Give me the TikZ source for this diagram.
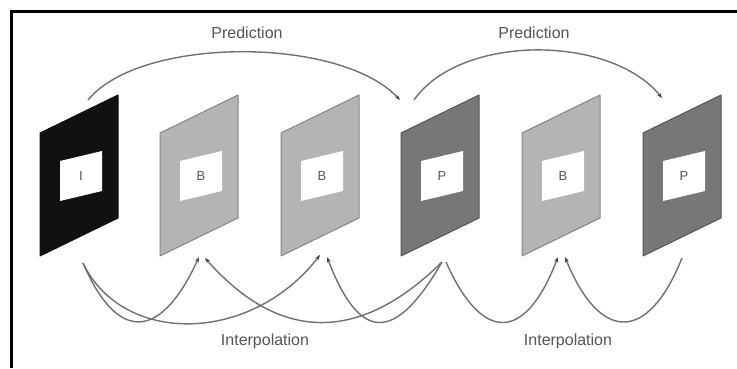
\documentclass[tikz,border=0pt]{standalone}
\usepackage{fontspec}
\setmainfont{Liberation Sans}
\usetikzlibrary{arrows.meta}
\definecolor{linegray}{HTML}{707070}
\definecolor{textgray}{HTML}{555555}
\definecolor{bfill}{HTML}{B4B4B4}
\definecolor{bedge}{HTML}{858585}
\definecolor{pfill}{HTML}{777777}
\definecolor{pedge}{HTML}{555555}
\definecolor{ifill}{HTML}{111111}
\newcommand\vframe[5]{%
  \filldraw[fill=#2, draw=#3, line width=1pt, line join=round] (#1,256) -- (#1,133) -- ({#1+78},95) -- ({#1+78},218) -- cycle;
  \fill[white] ({#1+20},201) -- ({#1+20},161) -- ({#1+62},151) -- ({#1+62},191) -- cycle;
  \node[ftype] (#5) at ({#1+41},176) {#4};
}
\begin{document}
\begin{tikzpicture}[x=1pt,y=-1pt,
  frameline/.style={line width=3.5pt, black},
  conn/.style={draw=linegray, line width=1.4pt},
  arr/.style={conn, -{Stealth[length=5.5pt,width=4pt,color=black!75]}},
  lbl/.style={text=textgray, font=\fontsize{16}{19}\selectfont, inner sep=0pt},
  ftype/.style={text=textgray, font=\fontsize{13}{15}\selectfont, inner sep=0pt},
]
\useasboundingbox (0,0) rectangle (737,368);
\fill[white] (0,0) rectangle (737,368);
% frame (top and left edges)
\draw[frameline] (11.5,368) -- (11.5,11.5) -- (737,11.5);

% frames
\vframe{40}{ifill}{ifill}{I}{fI}
\vframe{160}{bfill}{bedge}{B}{fBa}
\vframe{281}{bfill}{bedge}{B}{fBb}
\vframe{401}{pfill}{pedge}{P}{fPa}
\vframe{522}{bfill}{bedge}{B}{fBc}
\vframe{643}{pfill}{pedge}{P}{fPb}

% labels
\node[lbl] (pred1) at (247,33) {Prediction};
\node[lbl] (pred2) at (534,33) {Prediction};
\node[lbl] (interp1) at (265,341) {Interpolation};
\node[lbl] (interp2) at (568,341) {Interpolation};

% prediction anchors
\coordinate (pIs) at (88,100);
\coordinate (pPae) at (400,100);
\coordinate (pPas) at (414,100);
\coordinate (pPbe) at (662,98);
\draw[arr] (pIs) .. controls (140,36) and (340,36) .. (pPae);
\draw[arr] (pPas) .. controls (460,34) and (610,34) .. (pPbe);

% interpolation anchors
\coordinate (iI) at (83,263);
\coordinate (iPa) at (442,262);
\coordinate (iPa2) at (446,262);
\coordinate (iPb) at (682,258);
\coordinate (iBa1) at (199,257);
\coordinate (iBa2) at (205,258);
\coordinate (iBb1) at (320,255);
\coordinate (iBb2) at (327,257);
\coordinate (iBc1) at (558,257);
\coordinate (iBc2) at (565,257);

\draw[arr] (iI) .. controls (117,342) and (160,342) .. (iBa1);
\draw[arr] (iI) .. controls (122,345) and (250,345) .. (iBb1);
\draw[arr] (iPa) .. controls (360,343) and (280,343) .. (iBa2);
\draw[arr] (iPa) .. controls (395,343) and (360,343) .. (iBb2);
\draw[arr] (iPa2) .. controls (482,343) and (525,343) .. (iBc1);
\draw[arr] (iPb) .. controls (648,343) and (600,343) .. (iBc2);
\end{tikzpicture}
\end{document}
